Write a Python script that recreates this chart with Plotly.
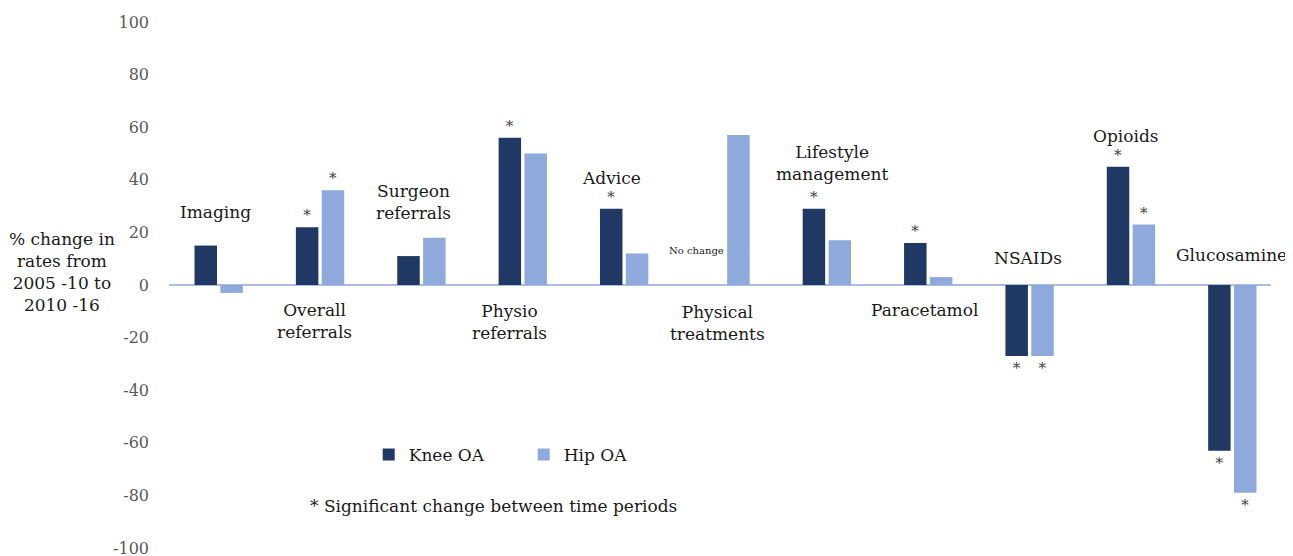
import plotly.graph_objects as go

categories = ["Imaging", "Overall referrals", "Surgeon referrals", "Physio referrals",
              "Advice", "Physical treatments", "Lifestyle management", "Paracetamol",
              "NSAIDs", "Opioids", "Glucosamine"]
knee_oa = [15, 22, 11, 56, 29, 0, 29, 16, -27, 45, -63]
hip_oa = [-3, 36, 18, 50, 12, 57, 17, 3, -27, 23, -79]
knee_sig = [False, True, False, True, True, False, True, True, True, True, True]
hip_sig = [False, True, False, False, False, False, False, False, True, True, True]
y_ticks = [-100, -80, -60, -40, -20, 0, 20, 40, 60, 80, 100]
y_tick_text = ["-100", "-80", "-60", "-40", "-20", "0", "20", "40", "60", "80", "100"]

# label text and placement (category index offset, value position)
label_text = ["Imaging", "Overall<br>referrals", "Surgeon<br>referrals", "Physio<br>referrals",
              "Advice", "Physical<br>treatments", "Lifestyle<br>management", "Paracetamol",
              "NSAIDs", "Opioids"]
label_x = [-0.03, 0.95, 1.92, 2.87, 3.88, 4.92, 6.05, 6.96, 7.98, 8.95]
label_y = [27.8, -13.5, 31.5, -14, 40.5, -14.5, 46.5, -9.5, 10.3, 56.5]

FONT = "DejaVu Serif"
KNEE = "#1F3864"
HIP = "#8EA9DB"
TS = 17

fig = go.Figure()
fig.add_trace(go.Bar(
    x=categories, y=knee_oa, name="Knee OA", marker=dict(color=KNEE, line=dict(width=0)),
    text=["*" if s else "" for s in knee_sig], textposition="outside",
    textfont=dict(family=FONT, size=15, color="#404040"), cliponaxis=False,
))
fig.add_trace(go.Bar(
    x=categories, y=hip_oa, name="Hip OA", marker=dict(color=HIP, line=dict(width=0)),
    text=["*" if s else "" for s in hip_sig], textposition="outside",
    textfont=dict(family=FONT, size=15, color="#404040"), cliponaxis=False,
))

annotations = []
for t, xx, yy in zip(label_text, label_x, label_y):
    annotations.append(dict(x=xx, y=yy, xref="x", yref="y", text=t, showarrow=False,
                            font=dict(family=FONT, size=TS, color="#1a1a1a"),
                            xanchor="center", yanchor="middle"))
# last category label sits against the right edge
annotations.append(dict(x=1.0, y=11.4, xref="paper", yref="y", text=categories[-1],
                        showarrow=False, xshift=6,
                        font=dict(family=FONT, size=TS, color="#1a1a1a"),
                        xanchor="right", yanchor="middle"))
annotations.append(dict(x=4.71, y=13.3, xref="x", yref="y", text="No change", showarrow=False,
                        font=dict(family=FONT, size=10, color="#1a1a1a")))
annotations.append(dict(x=-0.095, y=0.525, xref="paper", yref="paper",
                        text="% change in<br>rates from<br>2005 -10 to<br>2010 -16",
                        showarrow=False, font=dict(family=FONT, size=TS, color="#1a1a1a"),
                        xanchor="center", yanchor="middle"))
annotations.append(dict(x=0.126, y=0.08, xref="paper", yref="paper",
                        text="* Significant change between time periods",
                        showarrow=False, font=dict(family=FONT, size=TS, color="#1a1a1a"),
                        xanchor="left", yanchor="middle"))

fig.update_layout(
    width=1293, height=556,
    margin=dict(l=160, r=18, t=14, b=16, autoexpand=False),
    paper_bgcolor="white", plot_bgcolor="white",
    barmode="group", bargap=0.49, bargroupgap=0.13,
    font=dict(family=FONT),
    showlegend=True,
    legend=dict(orientation="h", x=0.18, y=0.177, xanchor="left", yanchor="middle",
                font=dict(family=FONT, size=TS, color="#1a1a1a"),
                entrywidth=110, itemwidth=30, bgcolor="rgba(0,0,0,0)"),
    annotations=annotations,
)
fig.update_xaxes(showticklabels=False, showgrid=False, zeroline=False, showline=False,
                 range=[-0.5, 10.5])
fig.update_yaxes(range=[-100, 100], tickvals=y_ticks, ticktext=y_tick_text,
                 showgrid=False, zeroline=False, ticklabeloverflow="allow",
                 showline=False, tickfont=dict(family=FONT, size=16, color="#595959"),
                 ticklabelstandoff=18)
fig.add_shape(type="line", xref="x", yref="y", x0=-0.49, x1=10.38, y0=0, y1=0,
              line=dict(color=HIP, width=1.5), layer="below")

fig.write_html("out.html")
